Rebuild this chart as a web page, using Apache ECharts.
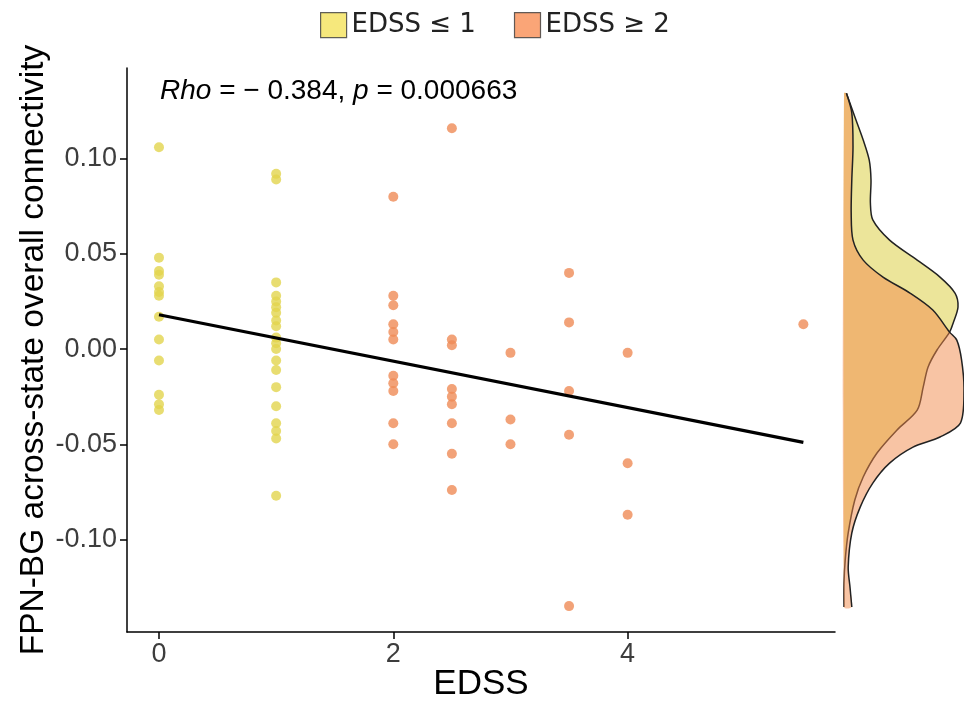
<!DOCTYPE html>
<html><head><meta charset="utf-8">
<script src="https://cdn.jsdelivr.net/npm/echarts@6/dist/echarts.min.js"></script>
<style>html,body{margin:0;padding:0;background:#fff}#c{width:964px;height:709px}</style>
</head><body><div id="c"></div>
<script>
// ---- data ----
const groupNames = ['EDSS ≤ 1', 'EDSS ≥ 2'];
const lowLevels = [0, 1];
const highLevels = [2, 2.5, 3, 3.5, 4, 5.5];
const vals_0 = [0.106, 0.048, 0.041, 0.039, 0.033, 0.030, 0.028, 0.017, 0.005, -0.006, -0.024, -0.029, -0.032];
const vals_1 = [0.092, 0.089, 0.035, 0.028, 0.025, 0.022, 0.019, 0.015, 0.012, 0.006, 0.003, 0.000, -0.006, -0.011, -0.020, -0.030, -0.039, -0.043, -0.047, -0.077];
const vals_2 = [0.080, 0.028, 0.023, 0.013, 0.009, 0.005, -0.014, -0.018, -0.022, -0.039, -0.050];
const vals_2_5 = [0.116, 0.005, 0.002, -0.021, -0.025, -0.029, -0.039, -0.055, -0.074];
const vals_3 = [-0.002, -0.037, -0.050];
const vals_3_5 = [0.040, 0.014, -0.022, -0.045, -0.135];
const vals_4 = [-0.002, -0.060, -0.087];
const vals_5_5 = [0.013];
const lowVals = [vals_0, vals_1];
const highVals = [vals_2, vals_2_5, vals_3, vals_3_5, vals_4, vals_5_5];

const fitX = [0, 5.5];
const fitY = [0.018, -0.049];

const xTicks = [0, 2, 4];
const yTicks = [-0.10, -0.05, 0.00, 0.05, 0.10];

// marginal densities (relative height, y value)
const densV_low = [0.1343, 0.1220, 0.1098, 0.0993, 0.0888, 0.0767, 0.0678, 0.0572, 0.0467, 0.0378, 0.0294, 0.0221, 0.0137, 0.0089, -0.0005, -0.0095, -0.0200, -0.0321, -0.0426, -0.0546, -0.0672, -0.0793, -0.0966, -0.1109, -0.1229, -0.1355];
const densD_low = [0.2, 0.9, 1.6, 2.1, 2.25, 2.2, 2.4, 3.8, 6.1, 8.0, 9.25, 9.5, 9.1, 8.8, 7.75, 7.0, 6.6, 6.1, 4.4, 2.75, 1.6, 0.9, 0.35, 0.1, 0.0, 0.0];
const densV_high = [0.1343, 0.1240, 0.1061, 0.0888, 0.0714, 0.0572, 0.0467, 0.0378, 0.0294, 0.0205, 0.0089, 0.0047, -0.0058, -0.0215, -0.0389, -0.0462, -0.0515, -0.0599, -0.0704, -0.0830, -0.0966, -0.1145, -0.1250, -0.1355];
const densD_high = [0.2, 0.65, 0.75, 0.65, 0.6, 0.75, 1.6, 3.25, 5.5, 7.4, 8.8, 9.4, 9.8, 10.0, 9.7, 8.0, 5.75, 3.8, 2.4, 1.35, 0.65, 0.35, 0.5, 0.65];

// ---- build ----
function pairs(levels, valsList) {
  const out = [];
  levels.forEach((lv, i) => valsList[i].forEach(v => out.push([lv, v])));
  return out;
}
const lowData = pairs(lowLevels, lowVals);
const highData = pairs(highLevels, highVals);
const fitData = fitX.map((x, i) => [x, fitY[i]]);

const FONT = 'Liberation Sans, Arial, sans-serif';

function densitySeries(ds, vs, fill) {
  return {
    type: 'custom', xAxisIndex: 1, yAxisIndex: 1, silent: true,
    data: ds.map((d, i) => [d, vs[i]]),
    renderItem: function (params, api) {
      if (params.dataIndex !== 0) return null;
      const pts = ds.map((d, i) => api.coord([d, vs[i]]));
      const base = [api.coord([0, vs[vs.length - 1]]), api.coord([0, vs[0]])];
      return {
        type: 'group', children: [
          { type: 'polygon', shape: { points: pts.concat(base), smooth: 0.3 }, style: { fill: fill, stroke: null } },
          { type: 'polyline', shape: { points: pts, smooth: 0.3 }, style: { fill: null, stroke: '#222', lineWidth: 1.5 } }
        ]
      };
    }
  };
}

const chart = echarts.init(document.getElementById('c'), null, { renderer: 'canvas' });
chart.setOption({
  animation: false,
  backgroundColor: '#fff',
  legend: {
    left: 315, top: 7, itemWidth: 26, itemHeight: 25, itemGap: 38, selectedMode: false,
    textStyle: { fontFamily: 'DejaVu Sans', fontSize: 26, color: '#222' },
    data: [
      { name: groupNames[0], icon: 'rect', itemStyle: { color: '#f4e25b', borderColor: '#3a3a3a', borderWidth: 1.2 } },
      { name: groupNames[1], icon: 'rect', itemStyle: { color: '#f98f55', borderColor: '#3a3a3a', borderWidth: 1.2 } }
    ]
  },
  grid: [
    { left: 127, right: 129, top: 68, bottom: 77 },
    { left: 844, right: 0, top: 68, bottom: 77 }
  ],
  xAxis: [
    {
      gridIndex: 0, type: 'value', min: -0.273, max: 5.77,
      name: 'EDSS', nameLocation: 'middle', nameGap: 35, nameMoveOverlap: false,
      nameTextStyle: { fontSize: 35, fontFamily: FONT, color: '#000' },
      axisLine: { show: true, onZero: false, lineStyle: { color: '#000', width: 1.5 } },
      axisTick: { show: true, length: 7, customValues: xTicks, lineStyle: { color: '#000', width: 1.5 } },
      axisLabel: { customValues: xTicks, fontSize: 27, fontFamily: FONT, color: '#3d3d3d', margin: 9 },
      splitLine: { show: false }
    },
    { gridIndex: 1, type: 'value', min: 0, max: 10, show: false }
  ],
  yAxis: [
    {
      gridIndex: 0, type: 'value', min: -0.1486, max: 0.1476,
      name: 'FPN-BG across-state overall connectivity', nameLocation: 'middle', nameGap: 76, nameMoveOverlap: false,
      nameTextStyle: { fontSize: 33.5, fontFamily: FONT, color: '#000' },
      axisLine: { show: true, onZero: false, lineStyle: { color: '#000', width: 1.5 } },
      axisTick: { show: true, length: 7, customValues: yTicks, lineStyle: { color: '#000', width: 1.5 } },
      axisLabel: { customValues: yTicks, fontSize: 27, fontFamily: FONT, color: '#3d3d3d', margin: 10,
        formatter: v => v.toFixed(2) },
      splitLine: { show: false }
    },
    { gridIndex: 1, type: 'value', min: -0.1486, max: 0.1476, show: false }
  ],
  graphic: [{
    type: 'text', left: 160, top: 77,
    style: {
      text: '{i|Rho} = − 0.384, {i|p} = 0.000663',
      fontSize: 28, fontFamily: FONT, fill: '#000',
      rich: { i: { fontStyle: 'italic', fontSize: 28, fontFamily: FONT, fill: '#000' } }
    }
  }],
  series: [
    { name: groupNames[0], type: 'scatter', xAxisIndex: 0, yAxisIndex: 0, symbolSize: 10,
      itemStyle: { color: '#e2d44e' }, data: lowData },
    { name: groupNames[1], type: 'scatter', xAxisIndex: 0, yAxisIndex: 0, symbolSize: 10,
      itemStyle: { color: '#ef8b56' }, data: highData },
    { type: 'line', xAxisIndex: 0, yAxisIndex: 0, data: fitData, symbol: 'none', silent: true,
      lineStyle: { color: '#000', width: 3.2 } },
    densitySeries(densD_low, densV_low, 'rgba(217,203,53,0.5)'),
    densitySeries(densD_high, densV_high, 'rgba(241,137,73,0.5)')
  ]
});
</script></body></html>
